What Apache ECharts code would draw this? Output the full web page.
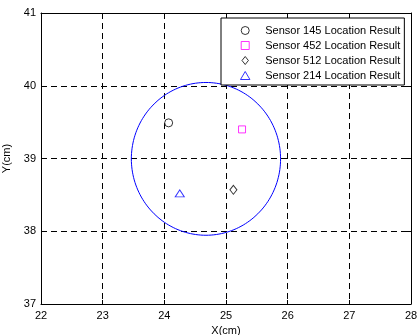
<!DOCTYPE html>
<html><head><meta charset="utf-8">
<script src="https://cdn.jsdelivr.net/npm/echarts@6/dist/echarts.min.js"></script>
<style>html,body{margin:0;padding:0;background:#fff}#c{width:417px;height:335px}</style>
</head><body><div id="c"></div>
<script>
const xTicks = [22, 23, 24, 25, 26, 27, 28];
const yTicks = [37, 38, 39, 40, 41];
const seriesNames = ['Sensor 145 Location Result', 'Sensor 452 Location Result', 'Sensor 512 Location Result', 'Sensor 214 Location Result'];
const sensor145 = [[24.07, 39.49]];
const sensor452 = [[25.26, 39.40]];
const sensor512 = [[25.12, 38.57]];
const sensor214 = [[24.25, 38.52]];
// circle outline: centre and radii (cm)
const circleCenter = [24.675, 38.995];
const circleRadii = [1.21, 1.05];

const circlePts = [];
for (let i = 0; i <= 180; i++) {
  const t = i / 180 * 2 * Math.PI;
  circlePts.push([circleCenter[0] + circleRadii[0] * Math.cos(t), circleCenter[1] + circleRadii[1] * Math.sin(t)]);
}

const ICON_CIRCLE = 'path://M10,5A5,5,0,1,1,0,5A5,5,0,1,1,10,5Z';
const ICON_SQUARE = 'path://M0,0L10,0L10,10L0,10Z';
const ICON_DIAMOND = 'path://M4,0L8,5L4,10L0,5Z';
const ICON_TRIANGLE = 'path://M5,0L10,8.5L0,8.5Z';

const FONT = 'Arial, "Liberation Sans", sans-serif';
const dash = { show: true, lineStyle: { color: '#000', type: [6, 4], width: 1 } };
const lineBlack = { show: true, lineStyle: { color: '#000', width: 1 } };

const chart = echarts.init(document.getElementById('c'), null, { renderer: 'canvas' });
chart.setOption({
  animation: false,
  backgroundColor: '#fff',
  grid: { left: 41, top: 13, width: 370, height: 291, containLabel: false, outerBoundsMode: 'none' },
  legend: {
    data: [
      { name: seriesNames[0], icon: ICON_CIRCLE },
      { name: seriesNames[1], icon: ICON_SQUARE },
      { name: seriesNames[2], icon: ICON_DIAMOND },
      { name: seriesNames[3], icon: ICON_TRIANGLE }
    ],
    orient: 'vertical',
    left: 221, top: 18,
    padding: [7, 4, 4, 19],
    itemGap: 4,
    itemWidth: 30, itemHeight: 8,
    symbolKeepAspect: true,
    itemStyle: { borderWidth: 1 },
    backgroundColor: '#fff',
    borderColor: '#000', borderWidth: 1, borderRadius: 0,
    textStyle: { fontFamily: FONT, fontSize: 11, color: '#000' },
    selectedMode: false
  },
  xAxis: [{
    type: 'value', min: xTicks[0], max: xTicks[xTicks.length - 1], interval: 1,
    position: 'bottom',
    name: 'X(cm)', nameLocation: 'middle', nameGap: 20,
    nameTextStyle: { fontFamily: FONT, fontSize: 11, color: '#000' },
    axisLine: lineBlack,
    axisTick: { show: true, inside: true, length: 4, lineStyle: { color: '#000' } },
    axisLabel: { fontFamily: FONT, fontSize: 11, color: '#000', margin: 6 },
    splitLine: dash
  }, {
    type: 'value', min: xTicks[0], max: xTicks[xTicks.length - 1], interval: 1,
    position: 'top',
    axisLine: lineBlack,
    axisTick: { show: true, inside: true, length: 4, lineStyle: { color: '#000' } },
    axisLabel: { show: false }, splitLine: { show: false }
  }],
  yAxis: [{
    type: 'value', min: yTicks[0], max: yTicks[yTicks.length - 1], interval: 1,
    position: 'left',
    name: 'Y(cm)', nameLocation: 'middle', nameGap: 29,
    nameTextStyle: { fontFamily: FONT, fontSize: 11, color: '#000' },
    axisLine: lineBlack,
    axisTick: { show: true, inside: true, length: 4, lineStyle: { color: '#000' } },
    axisLabel: { fontFamily: FONT, fontSize: 11, color: '#000', margin: 5 },
    splitLine: dash
  }, {
    type: 'value', min: yTicks[0], max: yTicks[yTicks.length - 1], interval: 1,
    position: 'right',
    axisLine: lineBlack,
    axisTick: { show: true, inside: true, length: 4, lineStyle: { color: '#000' } },
    axisLabel: { show: false }, splitLine: { show: false }
  }],
  series: [
    { type: 'line', name: 'circle', data: circlePts, showSymbol: false, symbol: 'none', smooth: false,
      lineStyle: { color: '#0000ff', width: 1 }, silent: true, z: 3 },
    { type: 'scatter', name: seriesNames[0], data: sensor145, symbol: 'circle', symbolSize: 8,
      itemStyle: { color: '#fff', borderColor: '#000', borderWidth: 1 }, z: 4 },
    { type: 'scatter', name: seriesNames[1], data: sensor452, symbol: 'rect', symbolSize: 7,
      itemStyle: { color: '#fff', borderColor: '#ff00ff', borderWidth: 1 }, z: 4 },
    { type: 'scatter', name: seriesNames[2], data: sensor512, symbol: 'diamond', symbolSize: [7, 9],
      itemStyle: { color: '#fff', borderColor: '#000', borderWidth: 1 }, z: 4 },
    { type: 'scatter', name: seriesNames[3], data: sensor214, symbol: 'triangle', symbolSize: [9, 7],
      itemStyle: { color: '#fff', borderColor: '#0000ff', borderWidth: 1 }, z: 4 }
  ]
});
</script></body></html>
